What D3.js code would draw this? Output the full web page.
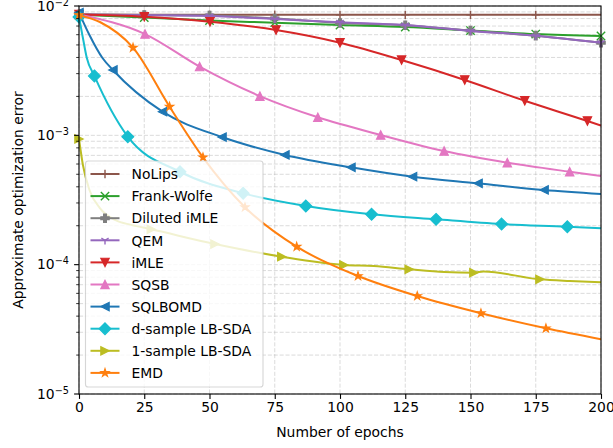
<!DOCTYPE html>
<html><head><meta charset="utf-8">
<script src="https://cdn.jsdelivr.net/npm/d3@7"></script>
<style>
body{margin:0;background:#fff}
svg{display:block}
text{font-family:"DejaVu Sans",sans-serif;fill:#000}
</style>
</head><body>
<svg id="chart" width="613" height="448"></svg>
<script>
// ---------------- data ----------------
const xTicks = [0, 25, 50, 75, 100, 125, 150, 175, 200];
const yMajorTicks = [1e-2, 1e-3, 1e-4, 1e-5];
const yTickExponents = ["−2", "−3", "−4", "−5"];
const xLabel = "Number of epochs";
const yLabel = "Approximate optimization error";

const noLipsX = [0, 25, 50, 75, 100, 125, 150, 175, 200];
const noLipsY = [8.6e-3, 8.57e-3, 8.56e-3, 8.56e-3, 8.55e-3, 8.55e-3, 8.55e-3, 8.55e-3, 8.55e-3];
const noLipsMarks = [0, 1, 2, 3, 4, 5, 6, 7];

const frankWolfeX = [0, 25, 50, 75, 100, 125, 150, 175, 200];
const frankWolfeY = [8.55e-3, 8.15e-3, 7.72e-3, 7.43e-3, 7.13e-3, 6.88e-3, 6.46e-3, 6.07e-3, 5.86e-3];
const frankWolfeMarks = [0, 1, 2, 3, 4, 5, 6, 7, 8];

const dilutedX = [0, 25, 50, 75, 100, 125, 150, 175, 200];
const dilutedY = [8.6e-3, 8.52e-3, 8.45e-3, 8.0e-3, 7.4e-3, 7.1e-3, 6.45e-3, 5.9e-3, 5.2e-3];
const dilutedMarks = [0, 1, 2, 3, 4, 5, 6, 7, 8];

const qemX = [0, 25, 50, 75, 100, 125, 150, 175, 200];
const qemY = [8.6e-3, 8.5e-3, 8.37e-3, 7.93e-3, 7.48e-3, 7.13e-3, 6.41e-3, 5.89e-3, 5.2e-3];
const qemMarks = [0, 1, 2, 3, 4, 5, 6, 7, 8];

const imleX = [0, 25, 50.2, 75.5, 100, 123.6, 147.8, 170.8, 194.8, 200];
const imleY = [8.6e-3, 8.27e-3, 7.56e-3, 6.52e-3, 5.2e-3, 3.82e-3, 2.68e-3, 1.85e-3, 1.29e-3, 1.19e-3];
const imleMarks = [0, 1, 2, 3, 4, 5, 6, 7, 8];

const sqsbX = [0, 25.3, 46.2, 69.3, 91.5, 115.6, 139.9, 164.1, 188, 200];
const sqsbY = [8.6e-3, 6.07e-3, 3.4e-3, 2.01e-3, 1.378e-3, 1.006e-3, 7.56e-4, 6.14e-4, 5.23e-4, 4.85e-4];
const sqsbMarks = [0, 1, 2, 3, 4, 5, 6, 7, 8];

const sqlbomdX = [0, 4, 9, 13, 32, 54.8, 78.9, 104.2, 127.8, 152.9, 178.2, 200];
const sqlbomdY = [8.9e-3, 5.97e-3, 3.96e-3, 3.2e-3, 1.523e-3, 9.7e-4, 7.05e-4, 5.66e-4, 4.79e-4, 4.26e-4, 3.78e-4, 3.52e-4];
const sqlbomdMarks = [0, 3, 4, 5, 6, 7, 8, 9, 10];

const dSampleX = [0, 1.5, 3, 5.9, 18.7, 38.7, 62.9, 86.9, 112.1, 136.8, 161.9, 187.1, 200];
const dSampleY = [8.22e-3, 5.66e-3, 3.96e-3, 2.88e-3, 9.76e-4, 5.23e-4, 3.56e-4, 2.84e-4, 2.45e-4, 2.24e-4, 2.06e-4, 1.965e-4, 1.91e-4];
const dSampleMarks = [0, 3, 4, 5, 6, 7, 8, 9, 10, 11];

const oneSampleX = [0, 1.5, 4, 8, 14, 20, 27.7, 52.1, 77.7, 101.5, 113, 126.5, 140, 151.3, 155, 176.6, 188, 200];
const oneSampleY = [9.37e-4, 5.9e-4, 3.78e-4, 2.74e-4, 2.21e-4, 2.03e-4, 1.876e-4, 1.444e-4, 1.152e-4, 9.94e-5, 9.76e-5, 9.21e-5, 8.77e-5, 8.67e-5, 8.85e-5, 7.7e-5, 7.47e-5, 7.3e-5];
const oneSampleMarks = [0, 6, 7, 8, 9, 11, 13, 15];

const emdX = [0, 8, 20.7, 34.7, 47.5, 63.6, 83.4, 106.9, 129.6, 154, 178.9, 200];
const emdY = [8.5e-3, 7.52e-3, 4.76e-3, 1.665e-3, 6.76e-4, 2.78e-4, 1.377e-4, 8.17e-5, 5.72e-5, 4.21e-5, 3.22e-5, 2.65e-5];
const emdMarks = [0, 2, 3, 4, 5, 6, 7, 8, 9, 10];

const seriesNames = ["NoLips", "Frank-Wolfe", "Diluted iMLE", "QEM", "iMLE", "SQSB", "SQLBOMD", "d-sample LB-SDA", "1-sample LB-SDA", "EMD"];

// ---------------- styles ----------------
const seriesStyle = [
  {color: "#8c564b", marker: "plus"},
  {color: "#2ca02c", marker: "x"},
  {color: "#7f7f7f", marker: "Pfill"},
  {color: "#9467bd", marker: "tridown"},
  {color: "#d62728", marker: "v"},
  {color: "#e377c2", marker: "^"},
  {color: "#1f77b4", marker: "<"},
  {color: "#17becf", marker: "D"},
  {color: "#bcbd22", marker: ">"},
  {color: "#ff7f0e", marker: "*"}
];
const seriesData = [
  [noLipsX, noLipsY, noLipsMarks],
  [frankWolfeX, frankWolfeY, frankWolfeMarks],
  [dilutedX, dilutedY, dilutedMarks],
  [qemX, qemY, qemMarks],
  [imleX, imleY, imleMarks],
  [sqsbX, sqsbY, sqsbMarks],
  [sqlbomdX, sqlbomdY, sqlbomdMarks],
  [dSampleX, dSampleY, dSampleMarks],
  [oneSampleX, oneSampleY, oneSampleMarks],
  [emdX, emdY, emdMarks]
];

const W = 613, H = 448;
const m = {left: 79, right: 601, top: 6, bottom: 394};
const svg = d3.select("#chart");

const x = d3.scaleLinear().domain([0, 200]).range([m.left, m.right]);
const y = d3.scaleLog().domain([1e-5, 1e-2]).range([m.bottom, m.top]);

// minor ticks
const yMinor = [];
for (let e = -5; e < -2; e++) for (let k = 2; k <= 9; k++) yMinor.push(k * Math.pow(10, e));

// grid
const grid = svg.append("g");
const dash = "4.1,1.8";
yMinor.forEach(v => grid.append("line").attr("x1", m.left).attr("x2", m.right)
  .attr("y1", y(v)).attr("y2", y(v)).attr("stroke", "#b0b0b0").attr("stroke-opacity", 0.45)
  .attr("stroke-width", 1).attr("stroke-dasharray", dash));
yMajorTicks.forEach(v => grid.append("line").attr("x1", m.left).attr("x2", m.right)
  .attr("y1", y(v)).attr("y2", y(v)).attr("stroke", "#b0b0b0").attr("stroke-opacity", 0.45)
  .attr("stroke-width", 1).attr("stroke-dasharray", dash));
xTicks.forEach(v => grid.append("line").attr("y1", m.top).attr("y2", m.bottom)
  .attr("x1", x(v)).attr("x2", x(v)).attr("stroke", "#b0b0b0").attr("stroke-opacity", 0.45)
  .attr("stroke-width", 1).attr("stroke-dasharray", dash));

// marker shapes
const MS = 8.33;
function markerPath(type, s) {
  const h = s / 2;
  switch (type) {
    case "plus": return `M${-h},0H${h}M0,${-h}V${h}`;
    case "x": return `M${-h},${-h}L${h},${h}M${-h},${h}L${h},${-h}`;
    case "tridown": return `M0,0L0,${h}M0,0L${-0.866*h},${-0.5*h}M0,0L${0.866*h},${-0.5*h}`;
    case "Pfill": {
      const a = h / 3;
      return `M${-a},${-h}H${a}V${-a}H${h}V${a}H${a}V${h}H${-a}V${a}H${-h}V${-a}H${-a}Z`;
    }
    case "v": return `M0,${h}L${-h},${-h}L${h},${-h}Z`;
    case "^": return `M0,${-h}L${-h},${h}L${h},${h}Z`;
    case "<": return `M${-h},0L${h},${-h}L${h},${h}Z`;
    case ">": return `M${h},0L${-h},${-h}L${-h},${h}Z`;
    case "D": { const r = s * 0.7071; return `M0,${-r}L${r},0L0,${r}L${-r},0Z`; }
    case "*": {
      let p = "";
      const ri = h * 0.381966;
      for (let i = 0; i < 10; i++) {
        const ang = -Math.PI / 2 + i * Math.PI / 5;
        const r = i % 2 === 0 ? h : ri;
        p += (i === 0 ? "M" : "L") + (r * Math.cos(ang)).toFixed(2) + "," + (r * Math.sin(ang)).toFixed(2);
      }
      return p + "Z";
    }
  }
}
const strokeOnly = new Set(["plus", "x", "tridown"]);
function drawMarker(g, type, color, cx, cy) {
  const p = g.append("path").attr("d", markerPath(type, MS))
    .attr("transform", `translate(${cx},${cy})`);
  if (strokeOnly.has(type)) p.attr("fill", "none").attr("stroke", color).attr("stroke-width", 1.4);
  else p.attr("fill", color).attr("stroke", color).attr("stroke-width", 1.2).attr("stroke-linejoin", "miter");
}

// clip
svg.append("clipPath").attr("id", "clip").append("rect")
  .attr("x", m.left).attr("y", m.top).attr("width", m.right - m.left).attr("height", m.bottom - m.top);

const lineGen = d3.line().x(d => x(d[0])).y(d => y(d[1])).curve(d3.curveMonotoneX);
const plot = svg.append("g");
seriesData.forEach(([xs, ys, marks], i) => {
  const st = seriesStyle[i];
  const pts = xs.map((v, j) => [v, ys[j]]);
  const g = plot.append("g");
  g.append("path").datum(pts).attr("d", lineGen).attr("fill", "none")
    .attr("stroke", st.color).attr("stroke-width", 2).attr("clip-path", "url(#clip)");
  marks.forEach(j => drawMarker(g, st.marker, st.color, x(pts[j][0]), y(pts[j][1])));
});

// spines
svg.append("rect").attr("x", m.left).attr("y", m.top).attr("width", m.right - m.left)
  .attr("height", m.bottom - m.top).attr("fill", "none").attr("stroke", "#000").attr("stroke-width", 1.1);

// x axis
const xAxis = d3.axisBottom(x).tickValues(xTicks).tickSize(4.9).tickPadding(3.4).tickFormat(d3.format("d"));
const gx = svg.append("g").attr("transform", `translate(0,${m.bottom})`).call(xAxis);
gx.select(".domain").remove();
gx.selectAll("line").attr("stroke", "#000").attr("stroke-width", 1.1);
gx.selectAll("text").attr("font-size", "13.9px").attr("font-family", "DejaVu Sans").attr("fill", "#000");

// y axis (major ticks with mathtext-like labels)
const gy = svg.append("g");
yMinor.forEach(v => gy.append("line").attr("x1", m.left - 2.8).attr("x2", m.left)
  .attr("y1", y(v)).attr("y2", y(v)).attr("stroke", "#000").attr("stroke-width", 0.8));
yMajorTicks.forEach((v, i) => {
  gy.append("line").attr("x1", m.left - 4.9).attr("x2", m.left)
    .attr("y1", y(v)).attr("y2", y(v)).attr("stroke", "#000").attr("stroke-width", 1.1);
  const t = gy.append("text").attr("x", 69).attr("y", y(v) + 4.8)
    .attr("text-anchor", "end").attr("font-size", "13.9px");
  t.append("tspan").text("10");
  t.append("tspan").attr("dy", -5.2).attr("font-size", "9.7px").text(yTickExponents[i]);
});

// axis labels
svg.append("text").attr("x", (m.left + m.right) / 2).attr("y", 437)
  .attr("text-anchor", "middle").attr("font-size", "13.9px").text(xLabel);
svg.append("text").attr("transform", `translate(23,${(m.top + m.bottom) / 2}) rotate(-90)`)
  .attr("text-anchor", "middle").attr("font-size", "13.9px").text(yLabel);

// legend
const lg = svg.append("g");
lg.append("rect").attr("x", 85.5).attr("y", 161).attr("width", 177.5).attr("height", 226)
  .attr("rx", 2.8).attr("fill", "#fff").attr("fill-opacity", 0.8)
  .attr("stroke", "#cccccc").attr("stroke-opacity", 0.8).attr("stroke-width", 1.1);
seriesNames.forEach((name, i) => {
  const cy = 174 + i * 22.1;
  const st = seriesStyle[i];
  lg.append("line").attr("x1", 90.5).attr("x2", 119.5).attr("y1", cy).attr("y2", cy)
    .attr("stroke", st.color).attr("stroke-width", 2);
  drawMarker(lg, st.marker, st.color, 105, cy);
  lg.append("text").attr("x", 131.5).attr("y", cy + 5.2).attr("font-size", "13.9px").text(name);
});
</script>
</body></html>
